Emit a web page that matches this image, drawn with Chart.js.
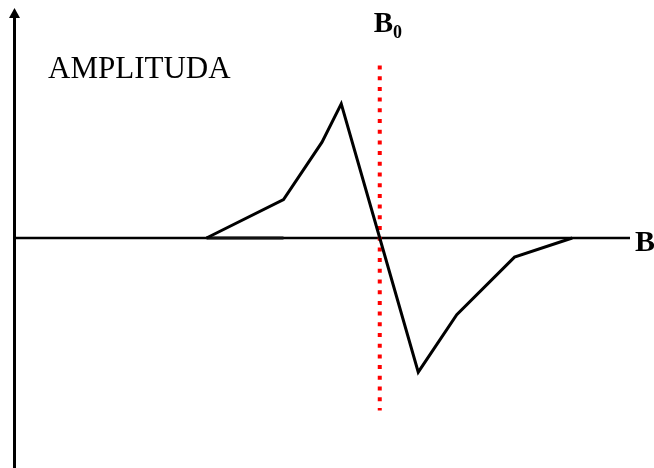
<!DOCTYPE html>
<html>
<head>
<meta charset="utf-8">
<style>
  html, body { margin: 0; padding: 0; background: #fff; }
  #wrap { width: 654px; height: 468px; position: relative; }
</style>
<script src="https://cdn.jsdelivr.net/npm/chart.js@4"></script>
</head>
<body>
<div id="wrap"><canvas id="c" width="654" height="468"></canvas></div>
<script>
// Field values (relative to B0) and derivative-signal amplitude
const fieldB = [-4.5, -2.5, -1.5, -1, 0, 1, 2, 3.5, 5];
const amplitude = [0, 1, 2.5, 3.5, 0, -3.5, -2, -0.5, 0];
const baselineB = [-4.5, -2.5];
const baselineA = [0, 0];
const resonanceB = [0, 0];
const resonanceA = [4.5, -4.5];
const xRange = [-9.5, 6.5];
const yRange = [-6, 6];
const labels = { amp: 'AMPLITUDA', field: 'B', res: 'B', resSub: '0' };

const toPts = (xs, ys) => xs.map((x, i) => ({ x: x, y: ys[i] }));

const serif = '"Liberation Serif", "Times New Roman", Times, serif';

const decor = {
  id: 'decor',
  beforeDatasetsDraw(chart) {
    const { ctx, scales: { x, y } } = chart;
    const x0 = x.getPixelForValue(xRange[0]);
    const x1 = x.getPixelForValue(xRange[1]);
    const yTop = y.getPixelForValue(yRange[1]);
    const yBot = y.getPixelForValue(yRange[0]);
    const yZero = y.getPixelForValue(0);
    ctx.save();
    ctx.strokeStyle = '#000';
    ctx.fillStyle = '#000';
    // y axis
    ctx.lineWidth = 3;
    ctx.beginPath();
    ctx.moveTo(x0 + 0.5, yTop + 8);
    ctx.lineTo(x0 + 0.5, yBot);
    ctx.stroke();
    // arrow head
    ctx.beginPath();
    ctx.moveTo(x0 + 0.5, yTop);
    ctx.lineTo(x0 - 5, yTop + 10);
    ctx.lineTo(x0 + 6, yTop + 10);
    ctx.closePath();
    ctx.fill();
    // x axis
    ctx.lineWidth = 2.5;
    ctx.beginPath();
    ctx.moveTo(x0, yZero);
    ctx.lineTo(x1, yZero);
    ctx.stroke();
    ctx.restore();
  },
  afterDraw(chart) {
    const { ctx, scales: { x, y } } = chart;
    const xr = x.getPixelForValue(0);
    ctx.save();
    ctx.fillStyle = '#000';
    ctx.textBaseline = 'alphabetic';
    ctx.font = '31px ' + serif;
    ctx.fillText(labels.amp, 48, 78);
    ctx.font = 'bold 30px ' + serif;
    ctx.fillText(labels.field, 635, 251);
    ctx.font = 'bold 29px ' + serif;
    ctx.fillText(labels.res, xr - 6, 32);
    const w = ctx.measureText(labels.res).width;
    ctx.font = 'bold 18px ' + serif;
    ctx.fillText(labels.resSub, xr - 6 + w, 38);
    ctx.restore();
  }
};

new Chart(document.getElementById('c'), {
  type: 'scatter',
  data: {
    datasets: [
      {
        data: toPts(fieldB, amplitude),
        showLine: true,
        borderColor: '#000',
        borderWidth: 3,
        pointRadius: 0,
        tension: 0,
        borderJoinStyle: 'miter'
      },
      {
        data: toPts(baselineB, baselineA),
        showLine: true,
        borderColor: '#111',
        borderWidth: 3,
        pointRadius: 0
      },
      {
        data: toPts(resonanceB, resonanceA),
        showLine: true,
        borderColor: '#ff0000',
        borderWidth: 4,
        borderDash: [4, 6.7],
        borderCapStyle: 'butt',
        pointRadius: 0
      }
    ]
  },
  options: {
    responsive: false,
    animation: false,
    devicePixelRatio: 1,
    layout: { padding: { left: 14, right: 24, top: 8, bottom: 0 } },
    plugins: { legend: { display: false }, tooltip: { enabled: false } },
    scales: {
      x: { type: 'linear', min: xRange[0], max: xRange[1], display: false },
      y: { type: 'linear', min: yRange[0], max: yRange[1], display: false }
    }
  },
  plugins: [decor]
});
</script>
</body>
</html>
